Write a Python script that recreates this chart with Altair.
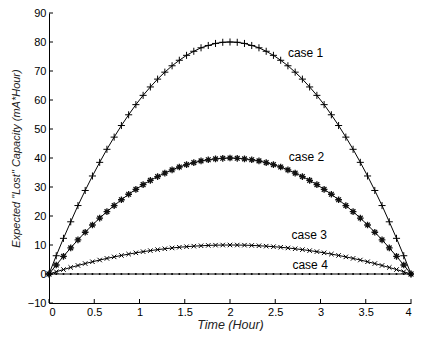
import altair as alt
import pandas as pd

# ---- data ----
time_h = [0, 0.08, 0.16, 0.24, 0.32, 0.4, 0.48, 0.56, 0.64, 0.72, 0.8, 0.88, 0.96,
          1.04, 1.12, 1.2, 1.28, 1.36, 1.44, 1.52, 1.6, 1.68, 1.76, 1.84, 1.92, 2.0,
          2.08, 2.16, 2.24, 2.32, 2.4, 2.48, 2.56, 2.64, 2.72, 2.8, 2.88, 2.96, 3.04,
          3.12, 3.2, 3.28, 3.36, 3.44, 3.52, 3.6, 3.68, 3.76, 3.84, 3.92, 4.0]

case1 = [0, 6.3, 12.3, 18.0, 23.6, 28.8, 33.8, 38.5, 43.0, 47.2, 51.2, 54.9, 58.4,
         61.6, 64.5, 67.2, 69.6, 71.8, 73.7, 75.4, 76.8, 78.0, 78.8, 79.5, 79.9, 80.0,
         79.9, 79.5, 78.8, 78.0, 76.8, 75.4, 73.7, 71.8, 69.6, 67.2, 64.5, 61.6, 58.4,
         54.9, 51.2, 47.2, 43.0, 38.5, 33.8, 28.8, 23.6, 18.0, 12.3, 6.3, 0]

case2 = [0, 3.1, 6.1, 9.0, 11.8, 14.4, 16.9, 19.3, 21.5, 23.6, 25.6, 27.5, 29.2,
         30.8, 32.3, 33.6, 34.8, 35.9, 36.9, 37.7, 38.4, 39.0, 39.4, 39.7, 39.9, 40.0,
         39.9, 39.7, 39.4, 39.0, 38.4, 37.7, 36.9, 35.9, 34.8, 33.6, 32.3, 30.8, 29.2,
         27.5, 25.6, 23.6, 21.5, 19.3, 16.9, 14.4, 11.8, 9.0, 6.1, 3.1, 0]

case3 = [0, 0.78, 1.54, 2.26, 2.94, 3.6, 4.22, 4.82, 5.38, 5.9, 6.4, 6.86, 7.3,
         7.7, 8.06, 8.4, 8.7, 8.98, 9.22, 9.42, 9.6, 9.74, 9.86, 9.94, 9.98, 10.0,
         9.98, 9.94, 9.86, 9.74, 9.6, 9.42, 9.22, 8.98, 8.7, 8.4, 8.06, 7.7, 7.3,
         6.86, 6.4, 5.9, 5.38, 4.82, 4.22, 3.6, 2.94, 2.26, 1.54, 0.78, 0]

case4 = [0, 0, 0, 0, 0, 0, 0, 0, 0, 0, 0, 0, 0,
         0, 0, 0, 0, 0, 0, 0, 0, 0, 0, 0, 0, 0,
         0, 0, 0, 0, 0, 0, 0, 0, 0, 0, 0, 0, 0,
         0, 0, 0, 0, 0, 0, 0, 0, 0, 0, 0, 0]

case_names = ["case 1", "case 2", "case 3", "case 4"]
label_x = [2.64, 2.65, 2.68, 2.69]
label_y = [76.3, 40.2, 13.4, 3.1]

x_ticks = [0, 0.5, 1, 1.5, 2, 2.5, 3, 3.5, 4]
y_ticks = [-10, 0, 10, 20, 30, 40, 50, 60, 70, 80, 90]

# ---- tables ----
rows = []
for name, vals in zip(case_names, [case1, case2, case3, case4]):
    for t, v in zip(time_h, vals):
        rows.append({"t": t, "v": v, "case": name})
df = pd.DataFrame(rows)
labels_df = pd.DataFrame({"t": label_x, "v": label_y, "name": case_names})
xt_df = pd.DataFrame({"t": x_ticks})
yt_df = pd.DataFrame({"v": y_ticks})

FONT = "Liberation Sans"
W, H = 362, 290

xs = alt.Scale(domain=[0, 4], nice=False, zero=False)
ys = alt.Scale(domain=[-10, 90], nice=False, zero=False)
x_axis = alt.Axis(values=x_ticks, format="~g", title="Time (Hour)", ticks=False,
                  labelPadding=3, titlePadding=1, titleFontSize=12.5, grid=False)
y_axis = alt.Axis(values=y_ticks, format="d",
                  title='Expected "Lost" Capacity (mA*Hour)', ticks=False,
                  labelPadding=3, titlePadding=6, titleFontSize=11, grid=False)
X = alt.X("t:Q", scale=xs, axis=x_axis)
Y = alt.Y("v:Q", scale=ys, axis=y_axis)

lines = alt.Chart(df).mark_line(color="black", strokeWidth=1).encode(
    x=X, y=Y, detail="case:N")

plus = "M-1,0L1,0M0,-1L0,1"
star = "M-1,0L1,0M0,-1L0,1M-0.7,-0.7L0.7,0.7M-0.7,0.7L0.7,-0.7"
cross = "M-1,-1L1,1M-1,1L1,-1"

pts1 = alt.Chart(df).transform_filter(alt.datum.case == "case 1").mark_point(
    shape=plus, size=50, filled=False, stroke="black", strokeWidth=1, opacity=1
).encode(x=X, y=Y)
pts2 = alt.Chart(df).transform_filter(alt.datum.case == "case 2").mark_point(
    shape=star, size=45, filled=False, stroke="#111111", strokeWidth=1.3, opacity=1
).encode(x=X, y=Y)
pts3 = alt.Chart(df).transform_filter(alt.datum.case == "case 3").mark_point(
    shape=cross, size=20, filled=False, stroke="black", strokeWidth=1, opacity=1
).encode(x=X, y=Y)
pts4 = alt.Chart(df).transform_filter(alt.datum.case == "case 4").mark_point(
    shape="circle", size=4, filled=True, color="black", opacity=1
).encode(x=X, y=Y)

texts = alt.Chart(labels_df).mark_text(
    align="left", baseline="middle", font=FONT, fontSize=12, color="black"
).encode(x=X, y=Y, text="name:N")

xticks = alt.Chart(xt_df).mark_rule(color="black", strokeWidth=1).encode(
    x=X, y=alt.value(H), y2=alt.value(H - 4))
yticks = alt.Chart(yt_df).mark_rule(color="black", strokeWidth=1).encode(
    y=Y, x=alt.value(0), x2=alt.value(4))

chart = alt.layer(lines, pts1, pts2, pts3, pts4, texts, xticks, yticks).properties(
    width=W, height=H,
    padding={"left": 41, "top": 5, "right": 3, "bottom": 28},
    autosize="none",
    background="white",
).configure_view(stroke=None).configure_axis(
    domainColor="black", domainWidth=1,
    labelFont=FONT, labelFontSize=11, labelColor="black",
    titleFont=FONT, titleFontStyle="italic",
    titleFontWeight="normal", titleColor="#222222",
)

chart.save("out.html", embed_options={"renderer": "svg", "actions": False})
